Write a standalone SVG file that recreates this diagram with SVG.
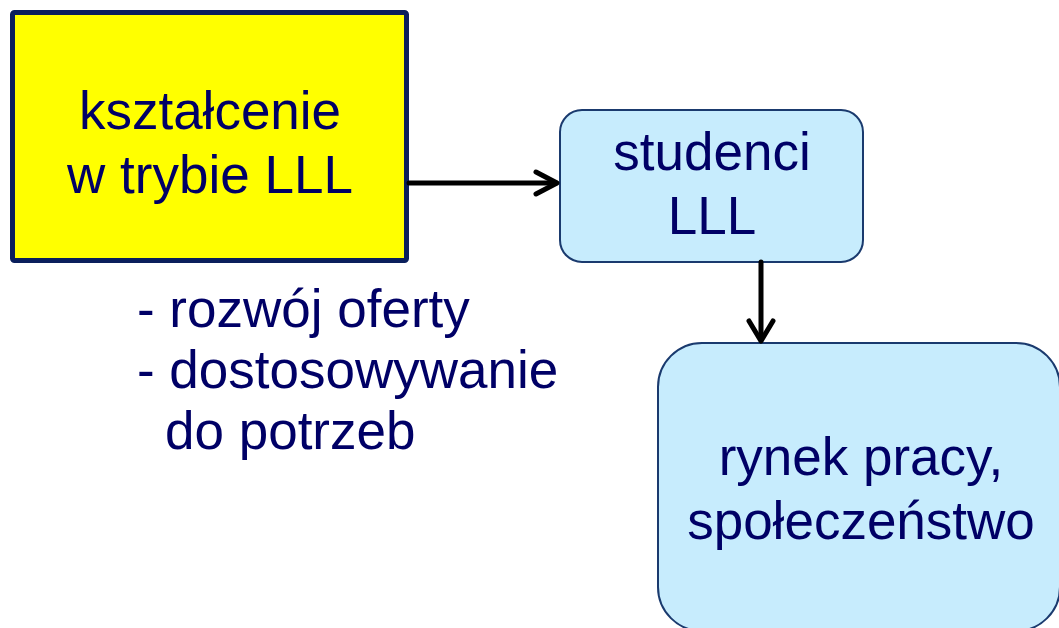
<svg xmlns="http://www.w3.org/2000/svg" width="1059" height="628" viewBox="0 0 1059 628">
<style>
.t{font-family:"Liberation Sans",Arial,sans-serif;font-size:53px;fill:#000066}
.c{text-anchor:middle}
.blue{fill:#c7ecfd;stroke:#1a3a6e;stroke-width:2}
.conn{stroke:#000;stroke-width:5;fill:none;stroke-linecap:round;stroke-linejoin:round}
</style>
<rect width="1059" height="628" fill="#fff"/>
<g id="node-ksztalcenie">
<rect x="12.5" y="12.5" width="394" height="248" rx="2" fill="#ffff00" stroke="#0a1f5c" stroke-width="5"/>
<text class="t c" x="210" y="129">kształcenie</text>
<text class="t c" x="210" y="193">w trybie LLL</text>
</g>
<g id="node-studenci">
<rect class="blue" x="560" y="110" width="303" height="152" rx="22"/>
<text class="t c" x="712" y="170">studenci</text>
<text class="t c" x="712" y="234">LLL</text>
</g>
<g id="node-rynek">
<rect class="blue" x="658" y="343" width="402" height="288" rx="44"/>
<text class="t c" x="861" y="475">rynek pracy,</text>
<text class="t c" x="861" y="539">społeczeństwo</text>
</g>
<g id="notes">
<text class="t" x="137" y="327">- rozwój oferty</text>
<text class="t" x="137" y="388">- dostosowywanie</text>
<text class="t" x="165" y="449">do potrzeb</text>
</g>
<g id="connectors">
<path class="conn" d="M409 183 H556"/>
<path class="conn" d="M536 172 L557 183 L536 194"/>
<path class="conn" d="M761 262 V340"/>
<path class="conn" d="M749 321 L761 341 L773 321"/>
</g>
</svg>
